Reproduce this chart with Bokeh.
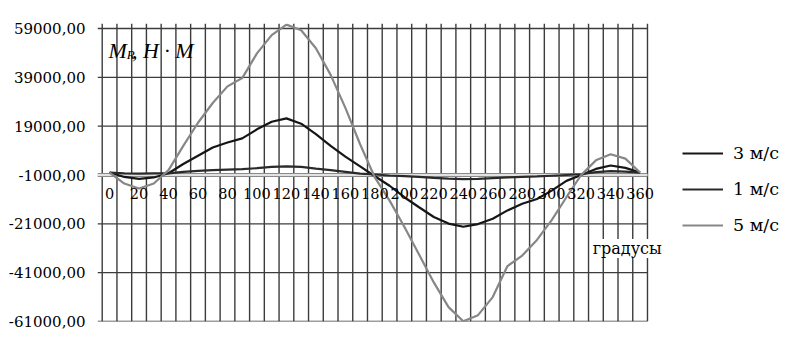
from bokeh.plotting import figure
from bokeh.models import Range1d, FixedTicker, Label, Legend, LegendItem
from bokeh.embed import file_html
from bokeh.resources import INLINE

# ---- data ----
angles = list(range(0, 361, 10))
m3 = [0, -1800, -2600, -2000, -300, 3500, 6900, 10250, 12300, 14000, 17700, 20800, 22200,
      20000, 15700, 10900, 6500, 2500, -1500, -5400, -10100, -14200, -18200, -20900, -22200,
      -21100, -18900, -15500, -12800, -10800, -7400, -3400, -1000, 1500, 2900, 1900, 0]
m1 = [0, -300, -400, -300, -300, 300, 700, 1000, 1200, 1400, 1800, 2300, 2500,
      2300, 1600, 1000, 300, -400, -800, -1200, -1500, -1800, -2200, -2500, -2700,
      -2600, -2300, -2000, -1800, -1600, -1300, -1000, -700, 200, 600, 400, 0]
m5 = [0, -4500, -6500, -4500, 1000, 10900, 20400, 28500, 35300, 38700, 48800, 56300, 60600,
      58300, 50900, 40000, 26500, 11600, -2000, -11500, -22200, -33600, -45000, -55100, -60900,
      -58400, -51000, -38300, -34000, -27600, -19500, -10100, -1000, 5000, 7500, 5700, 0]

series_names = ["3 м/с", "1 м/с", "5 м/с"]
series_colors = ["#161616", "#2a2a2a", "#878787"]

y_ticks = [59000, 39000, 19000, -1000, -21000, -41000, -61000]
y_tick_labels = ["59000,00", "39000,00", "19000,00", "-1000,00", "-21000,00", "-41000,00", "-61000,00"]
x_ticks = list(range(0, 361, 20))
x_tick_labels = [str(a) for a in x_ticks]
cell_edges = [a - 5 for a in angles] + [365]
x_axis_at = -1000

y_title = "M"
y_title_sub = "R"
y_title_rest = ", H · M"
x_title = "градусы"

FONT = "DejaVu Serif"
PX_PER_DEG = 1.4737
X_LO = -8.2
X_GRID_HI = 365
X_HI = X_LO + 703 / PX_PER_DEG
Y_LO = -61000
Y_HI = 61050

p = figure(frame_width=703, frame_height=298,
           x_range=Range1d(X_LO, X_HI), y_range=Range1d(Y_LO, Y_HI),
           output_backend="svg", toolbar_location=None,
           min_border_left=97, min_border_right=0, min_border_top=23, min_border_bottom=28)
p.outline_line_color = None
p.background_fill_color = "white"
p.border_fill_color = "white"
p.grid.visible = False

GRID_COLOR = "#3c3c3c"
# vertical grid lines (category boundaries)
p.segment(x0=cell_edges, y0=[Y_LO] * len(cell_edges), x1=cell_edges, y1=[Y_HI] * len(cell_edges),
          line_color=GRID_COLOR, line_width=1.4)
# horizontal grid lines
h_ticks = [t for t in y_ticks if t != x_axis_at]
p.segment(x0=[X_LO] * len(h_ticks), y0=h_ticks, x1=[X_GRID_HI] * len(h_ticks), y1=h_ticks,
          line_color=GRID_COLOR, line_width=1.4)
# double axis line at -1000
p.segment(x0=[X_LO], y0=[x_axis_at], x1=[X_GRID_HI], y1=[x_axis_at], line_color="#8a8a8a", line_width=4.2)
p.segment(x0=[X_LO], y0=[x_axis_at], x1=[X_GRID_HI], y1=[x_axis_at], line_color="white", line_width=1.6)

# x axis sitting at -1000
p.xaxis.fixed_location = x_axis_at
p.xaxis.ticker = FixedTicker(ticks=x_ticks)
p.xaxis.major_label_overrides = dict(zip(x_ticks, x_tick_labels))
p.xaxis.axis_line_color = None
p.xaxis.major_tick_out = 0
p.xaxis.major_tick_in = 0
p.xaxis.minor_tick_out = 0
p.xaxis.minor_tick_in = 0
p.xaxis.major_label_standoff = 13
p.xaxis.major_label_text_font = FONT
p.xaxis.major_label_text_font_size = "14.5px"
p.xaxis.major_label_text_color = "black"

# y axis
p.yaxis.ticker = FixedTicker(ticks=y_ticks)
p.yaxis.major_label_overrides = dict(zip(y_ticks, y_tick_labels))
p.yaxis.axis_line_color = None
p.yaxis.major_tick_out = 0
p.yaxis.major_tick_in = 0
p.yaxis.minor_tick_out = 0
p.yaxis.minor_tick_in = 0
p.yaxis.major_label_standoff = 12
p.yaxis.major_label_text_font = FONT
p.yaxis.major_label_text_font_size = "15px"
p.yaxis.major_label_text_color = "black"

renderers = []
for ys, c in zip([m3, m1, m5], series_colors):
    r = p.line(angles, ys, line_color=c, line_width=2.2)
    renderers.append(r)

legend = Legend(items=[LegendItem(label=n, renderers=[r]) for n, r in zip(series_names, renderers)],
                location=(585, 86), orientation="vertical",
                glyph_width=41, glyph_height=20, label_height=20, label_standoff=10,
                spacing=16, padding=0, margin=0,
                label_text_font=FONT, label_text_font_size="17.5px", label_text_color="black",
                background_fill_alpha=0, border_line_color=None)
p.add_layout(legend)

# axis titles
p.add_layout(Label(x=-0.7, y=49990, text=y_title, text_font="Liberation Serif", text_font_style="italic",
                   text_font_size="22px", text_baseline="alphabetic", text_align="left", text_color="black"))
p.add_layout(Label(x=11.6, y=48350, text=y_title_sub, text_font="Liberation Serif", text_font_style="italic",
                   text_font_size="13px", text_baseline="alphabetic", text_align="left", text_color="black"))
p.add_layout(Label(x=15.2, y=49990, text=y_title_rest, text_font="Liberation Serif", text_font_style="italic",
                   text_font_size="22px", text_baseline="alphabetic", text_align="left", text_color="black"))
p.add_layout(Label(x=327.8, y=-31100, text=x_title, text_font=FONT, text_font_size="16px",
                   text_baseline="middle", text_align="left", text_color="black",
                   background_fill_color="white"))

open("out.html", "w").write(file_html(p, INLINE))
